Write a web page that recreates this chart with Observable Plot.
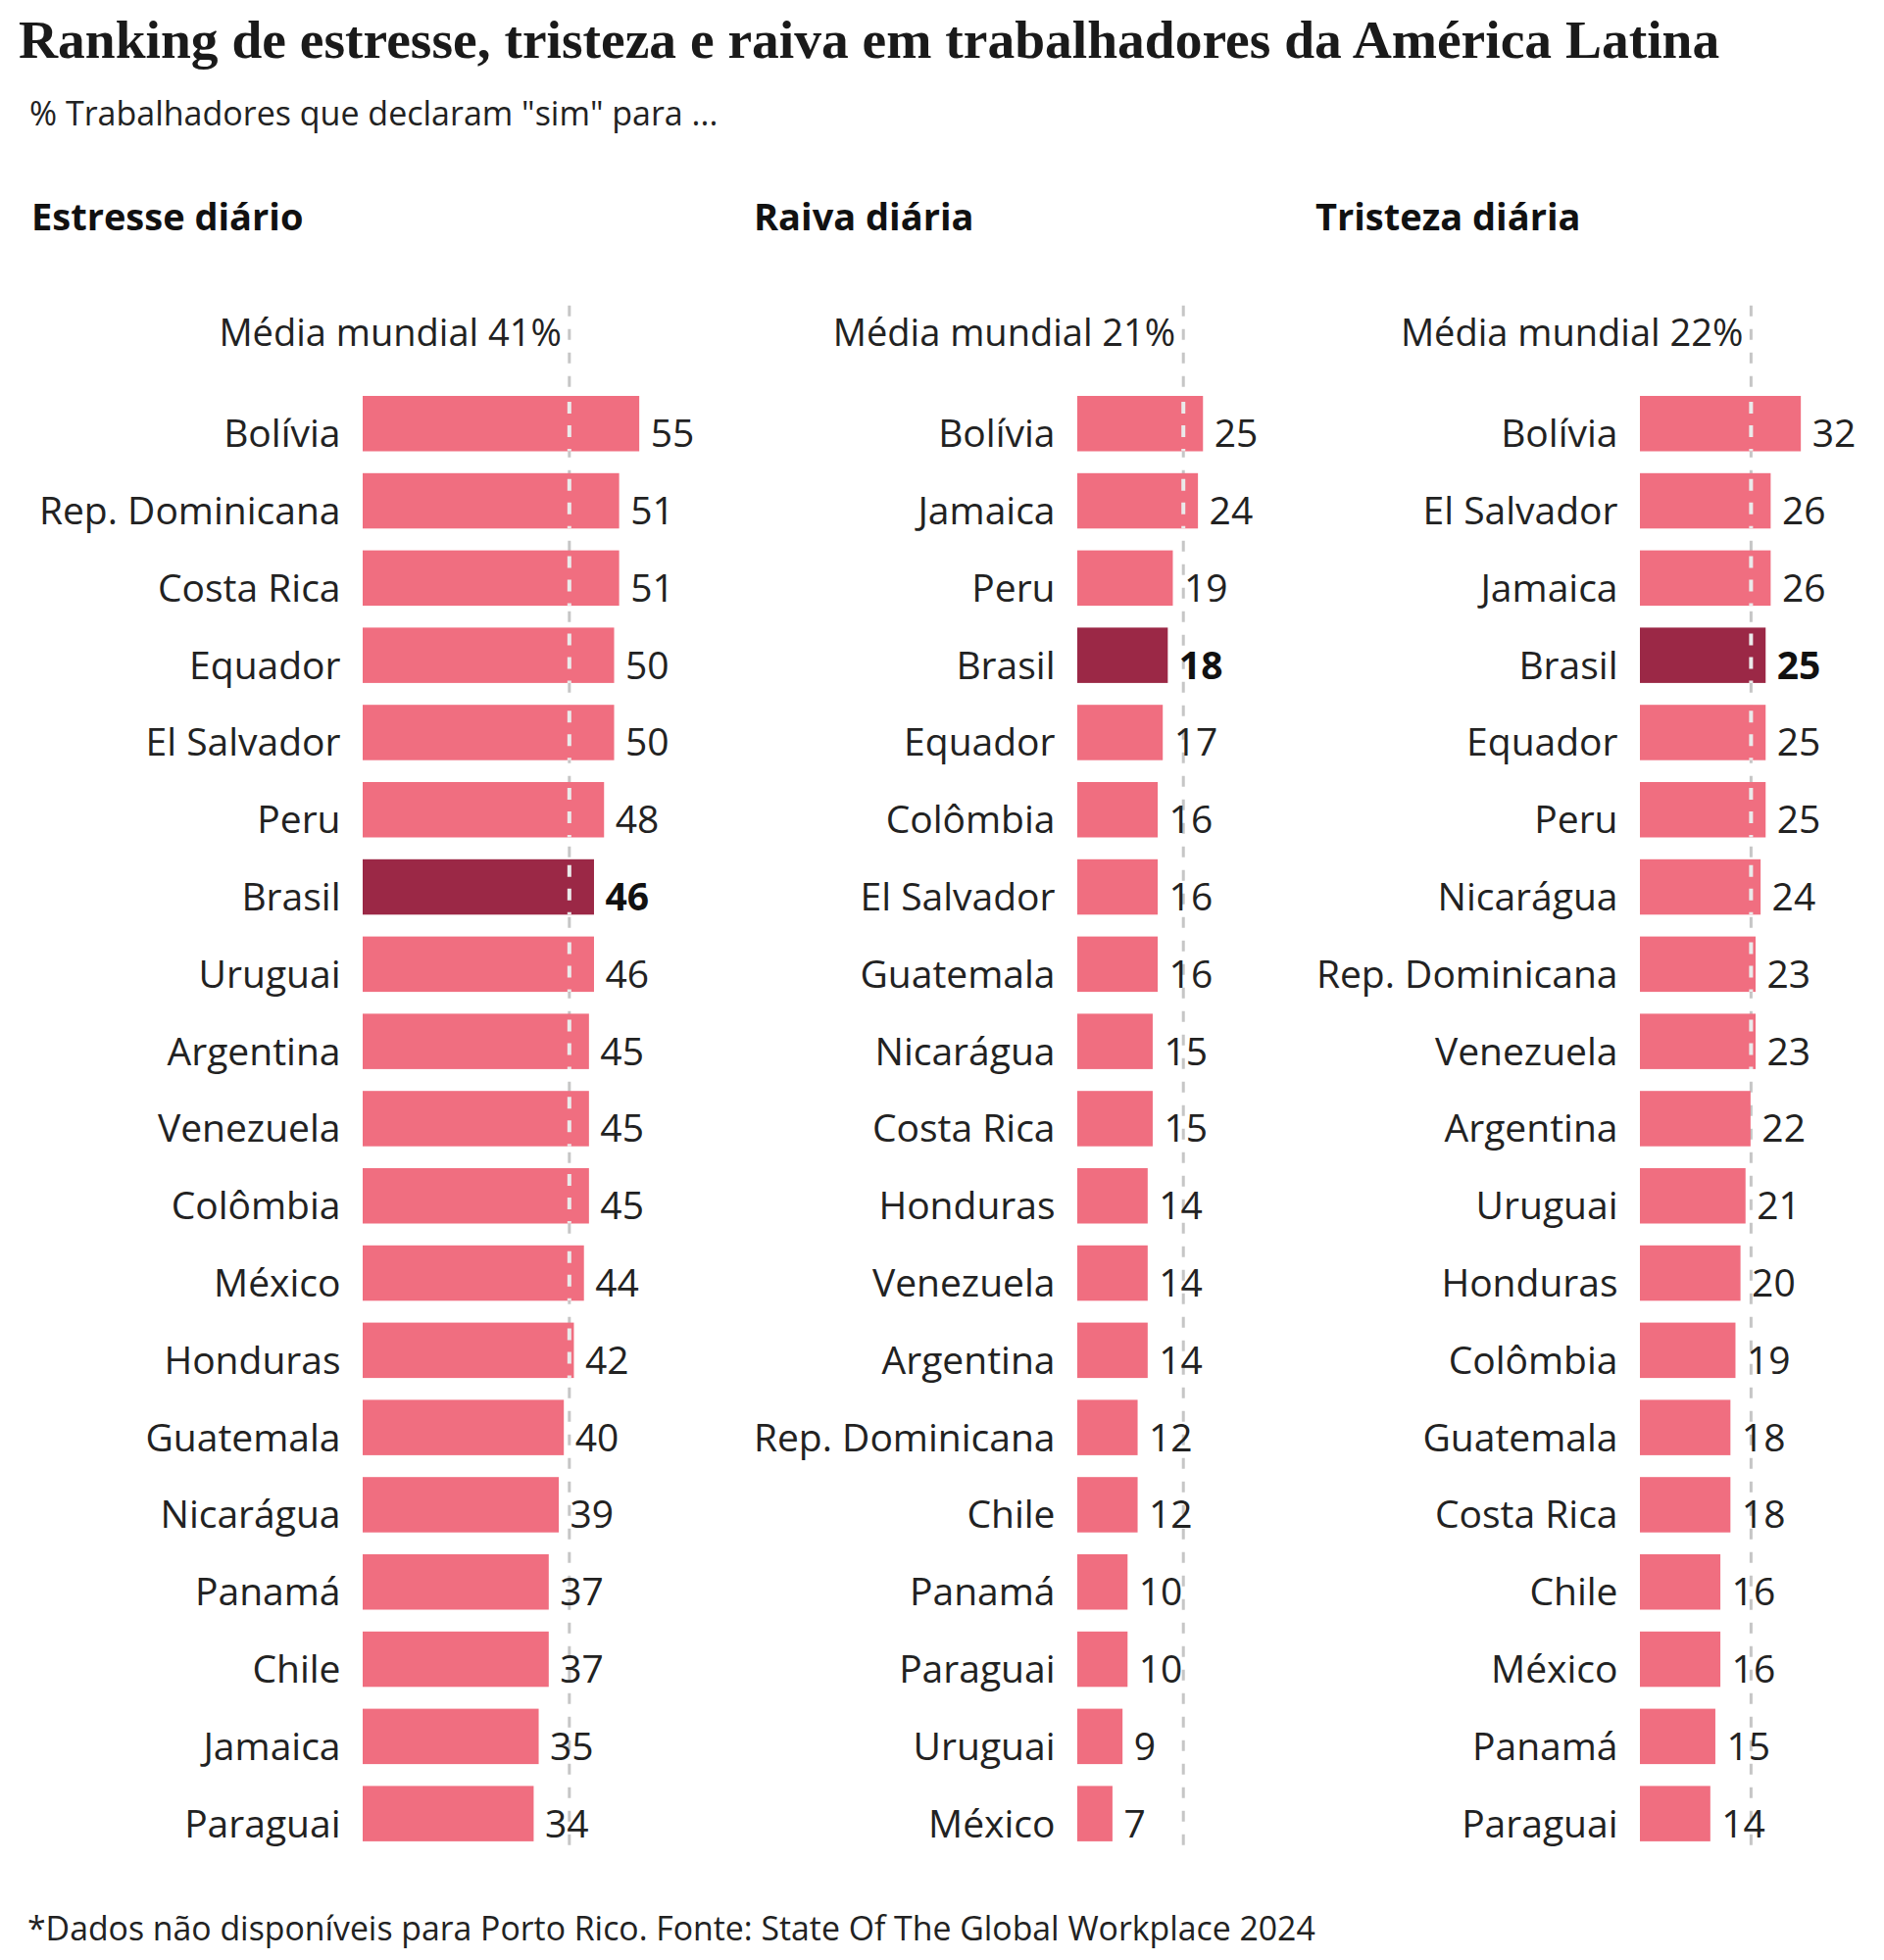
<!DOCTYPE html>
<html>
<head>
<meta charset="utf-8">
<script src="https://cdn.jsdelivr.net/npm/d3@7"></script>
<script src="https://cdn.jsdelivr.net/npm/@observablehq/plot@0.6"></script>
<style>
  html, body { margin: 0; padding: 0; background: #fff; }
  #page { position: relative; width: 1922px; height: 2000px; overflow: hidden; color: #222; }
  .t { position: absolute; white-space: nowrap; line-height: 1; }
  #title { left: 19px; top: 13px; font-family: "Liberation Serif", serif; font-weight: bold; font-size: 55.5px; color: #1a1a1a; }
  #subtitle { left: 30px; top: 98px; font-family: "Open Sans", sans-serif; font-size: 34px; color: #222; }
  .head { top: 201px; font-family: "Open Sans", sans-serif; font-weight: bold; font-size: 38px; color: #111; }
  #footer { left: 28px; top: 1951px; font-family: "Open Sans", sans-serif; font-size: 33.8px; color: #222; }
  .panel { position: absolute; top: 290px; }
</style>
</head>
<body>
<div id="page">
  <div class="t" id="title"></div>
  <div class="t" id="subtitle"></div>
  <div class="t head" id="h1" style="left:32px"></div>
  <div class="t head" id="h2" style="left:769px"></div>
  <div class="t head" id="h3" style="left:1342px"></div>
  <div class="panel" id="p1" style="left:0px"></div>
  <div class="panel" id="p2" style="left:740px"></div>
  <div class="panel" id="p3" style="left:1320px"></div>
  <div class="t" id="footer"></div>
</div>
<script>
const titleText = "Ranking de estresse, tristeza e raiva em trabalhadores da América Latina";
const subtitleText = "% Trabalhadores que declaram \"sim\" para ...";
const footerText = "*Dados não disponíveis para Porto Rico. Fonte: State Of The Global Workplace 2024";
const panelTitles = ["Estresse diário", "Raiva diária", "Tristeza diária"];
const worldMeans = [41, 21, 22];
const highlight = "Brasil";

const stressCountries = ["Bolívia", "Rep. Dominicana", "Costa Rica", "Equador", "El Salvador", "Peru", "Brasil", "Uruguai", "Argentina", "Venezuela", "Colômbia", "México", "Honduras", "Guatemala", "Nicarágua", "Panamá", "Chile", "Jamaica", "Paraguai"];
const stressValues = [55, 51, 51, 50, 50, 48, 46, 46, 45, 45, 45, 44, 42, 40, 39, 37, 37, 35, 34];

const angerCountries = ["Bolívia", "Jamaica", "Peru", "Brasil", "Equador", "Colômbia", "El Salvador", "Guatemala", "Nicarágua", "Costa Rica", "Honduras", "Venezuela", "Argentina", "Rep. Dominicana", "Chile", "Panamá", "Paraguai", "Uruguai", "México"];
const angerValues = [25, 24, 19, 18, 17, 16, 16, 16, 15, 15, 14, 14, 14, 12, 12, 10, 10, 9, 7];

const sadnessCountries = ["Bolívia", "El Salvador", "Jamaica", "Brasil", "Equador", "Peru", "Nicarágua", "Rep. Dominicana", "Venezuela", "Argentina", "Uruguai", "Honduras", "Colômbia", "Guatemala", "Costa Rica", "Chile", "México", "Panamá", "Paraguai"];
const sadnessValues = [32, 26, 26, 25, 25, 25, 24, 23, 23, 22, 21, 20, 19, 18, 18, 16, 16, 15, 14];

document.getElementById("title").textContent = titleText;
document.getElementById("subtitle").textContent = subtitleText;
document.getElementById("footer").textContent = footerText;
["h1", "h2", "h3"].forEach((id, i) => document.getElementById(id).textContent = panelTitles[i]);

const PINK = "#f06e80";
const DARK = "#9b2846";
const PX_PER_UNIT = 5.13;

function panel(countries, values, mean, width, marginLeft, domainMax) {
  const data = countries.map((c, i) => ({country: c, value: values[i]}));
  const above = data.filter(d => d.value > mean);
  const marginRight = width - marginLeft - domainMax * PX_PER_UNIT;
  return Plot.plot({
    width,
    height: 1620,
    marginTop: 91.7,
    marginBottom: 8.8,
    marginLeft,
    marginRight,
    style: {fontFamily: "'Open Sans', sans-serif", fontSize: "39px", color: "#222", background: "transparent", overflow: "visible"},
    x: {domain: [0, domainMax], axis: null},
    y: {domain: countries, padding: 0.283, round: false, label: null},
    marks: [
      Plot.ruleX([mean], {stroke: "#c6c6c6", strokeWidth: 3, strokeDasharray: "11,13", insetTop: -70, insetBottom: 17}),
      Plot.barX(data, {x: "value", y: "country", fill: d => d.country === highlight ? DARK : PINK}),
      Plot.tickX(above, {x: above.map(() => mean), y: "country", stroke: "#eaeaea", strokeWidth: 4, strokeDasharray: "12,12", strokeDashoffset: -6}),
      Plot.axisY({tickSize: 0, tickPadding: 23, dy: 11, fontSize: 39, fill: "#222", label: null}),
      Plot.text(data.filter(d => d.country !== highlight), {x: "value", y: "country", text: d => String(d.value), textAnchor: "start", dx: 11, dy: 11, fill: "#222", fontSize: 39}),
      Plot.text(data.filter(d => d.country === highlight), {x: "value", y: "country", text: d => String(d.value), textAnchor: "start", dx: 11, dy: 11, fill: "#111", fontSize: 39, fontWeight: "bold"}),
      Plot.text([mean], {x: d => d, text: d => `Média mundial ${d}%`, frameAnchor: "top", textAnchor: "end", dx: -8, dy: -56, fill: "#222", fontSize: 38})
    ]
  });
}

document.getElementById("p1").appendChild(panel(stressCountries, stressValues, worldMeans[0], 740, 370, 60));
document.getElementById("p2").appendChild(panel(angerCountries, angerValues, worldMeans[1], 580, 359, 30));
document.getElementById("p3").appendChild(panel(sadnessCountries, sadnessValues, worldMeans[2], 602, 353, 40));
</script>
</body>
</html>
